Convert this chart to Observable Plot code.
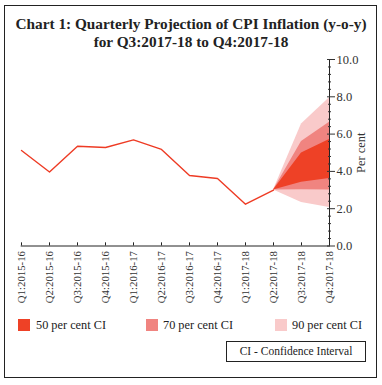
<!DOCTYPE html>
<html><head><meta charset="utf-8">
<script src="https://cdn.jsdelivr.net/npm/d3@7"></script>
<script src="https://cdn.jsdelivr.net/npm/@observablehq/plot@0.6"></script>
<style>
body{margin:0;background:#fff;font-family:"Liberation Serif",serif;color:#222}
#frame{position:absolute;left:4px;top:5px;width:371px;height:371px;border:1.3px solid #222}
#title{position:absolute;left:0;top:15px;width:382px;text-align:center;font-weight:bold;font-size:15.3px;line-height:18px;color:#222}
#chart{position:absolute;left:0;top:50px}
.lg{position:absolute;top:318px;font-size:12.3px;line-height:14px;color:#222}
.sw{position:absolute;top:319px;width:12px;height:12px}
#ci{position:absolute;left:226px;top:341px;width:140px;height:21px;border:1px solid #222;font-size:11.5px;line-height:19px;text-align:center;box-sizing:border-box}
</style></head>
<body>
<div id="frame"></div>
<div id="title">Chart 1: Quarterly Projection of CPI Inflation (y-o-y)<br>for Q3:2017-18 to Q4:2017-18</div>
<div id="chart"></div>
<div class="sw" style="left:18px;background:#EE4126"></div><div class="lg" style="left:36px">50 per cent CI</div>
<div class="sw" style="left:146px;background:#F08480"></div><div class="lg" style="left:163px">70 per cent CI</div>
<div class="sw" style="left:275px;background:#F9CACA"></div><div class="lg" style="left:292px">90 per cent CI</div>
<div id="ci">CI - Confidence Interval</div>
<script>
const quarters = ["Q1:2015-16","Q2:2015-16","Q3:2015-16","Q4:2015-16","Q1:2016-17","Q2:2016-17","Q3:2016-17","Q4:2016-17","Q1:2017-18","Q2:2017-18","Q3:2017-18","Q4:2017-18"];
const actual = [5.12, 3.97, 5.35, 5.28, 5.69, 5.18, 3.78, 3.62, 2.24, 3.0];
const fanQuarters = ["Q2:2017-18","Q3:2017-18","Q4:2017-18"];
const ci90Low = [3.0, 2.33, 2.07];
const ci90High = [3.0, 6.54, 7.95];
const ci70Low = [3.0, 3.02, 3.0];
const ci70High = [3.0, 5.6, 6.63];
const ci50Low = [3.0, 3.42, 3.62];
const ci50High = [3.0, 4.98, 5.71];
const yMajor = [0, 2, 4, 6, 8, 10];
const yMinor = [0.4,0.8,1.2,1.6,2.4,2.8,3.2,3.6,4.4,4.8,5.2,5.6,6.4,6.8,7.2,7.6,8.4,8.8,9.2,9.6];

const lineData = actual.map((v,i)=>({q:quarters[i], v}));
const band = (lo,hi)=>fanQuarters.map((q,i)=>({q, lo:lo[i], hi:hi[i]}));
const last = quarters[quarters.length-1];

const plot = Plot.plot({
  width: 382, height: 258,
  marginLeft: 20.7, marginRight: 52, marginTop: 9, marginBottom: 62.5,
  style: {fontFamily: '"Liberation Serif", serif', fontSize: "11px", color: "#333", background: "transparent"},
  x: {type: "point", domain: quarters, padding: 0, label: null},
  y: {domain: [0, 10], label: null},
  marks: [
    Plot.areaY(band(ci90Low, ci90High), {x: "q", y1: "lo", y2: "hi", fill: "#F9CACA"}),
    Plot.areaY(band(ci70Low, ci70High), {x: "q", y1: "lo", y2: "hi", fill: "#F08480"}),
    Plot.areaY(band(ci50Low, ci50High), {x: "q", y1: "lo", y2: "hi", fill: "#EE4126"}),
    Plot.lineY(lineData, {x: "q", y: "v", stroke: "#EE3B24", strokeWidth: 1.4}),
    Plot.ruleY([0], {stroke: "#222", strokeWidth: 1}),
    Plot.ruleX([last], {stroke: "#222", strokeWidth: 1}),
    Plot.ruleX(quarters, {x: d=>d, y1: 0, y2: 0.17, stroke: "#222"}),
    Plot.axisY({anchor: "right", ticks: yMajor, tickSize: 4, tickPadding: 2, tickFormat: d=>d.toFixed(1), fontSize: 12.5, label: null, color: "#333"}),
    Plot.axisY({anchor: "right", ticks: yMajor, tickSize: -4, tickFormat: ()=>"", label: null}),
    Plot.axisY({anchor: "right", ticks: yMinor, tickSize: -3, tickFormat: ()=>"", label: null}),
    Plot.axisX({anchor: "bottom", tickRotate: -90, tickSize: 0, tickPadding: 5, fontSize: 10.8, label: null, color: "#333"}),
    Plot.text(["Per cent"], {x: d=>last, y: d=>5, text: d=>d, rotate: -90, dx: 31, fontSize: 12.5, fill: "#333"})
  ]
});
document.getElementById("chart").appendChild(plot);
</script>
</body></html>
